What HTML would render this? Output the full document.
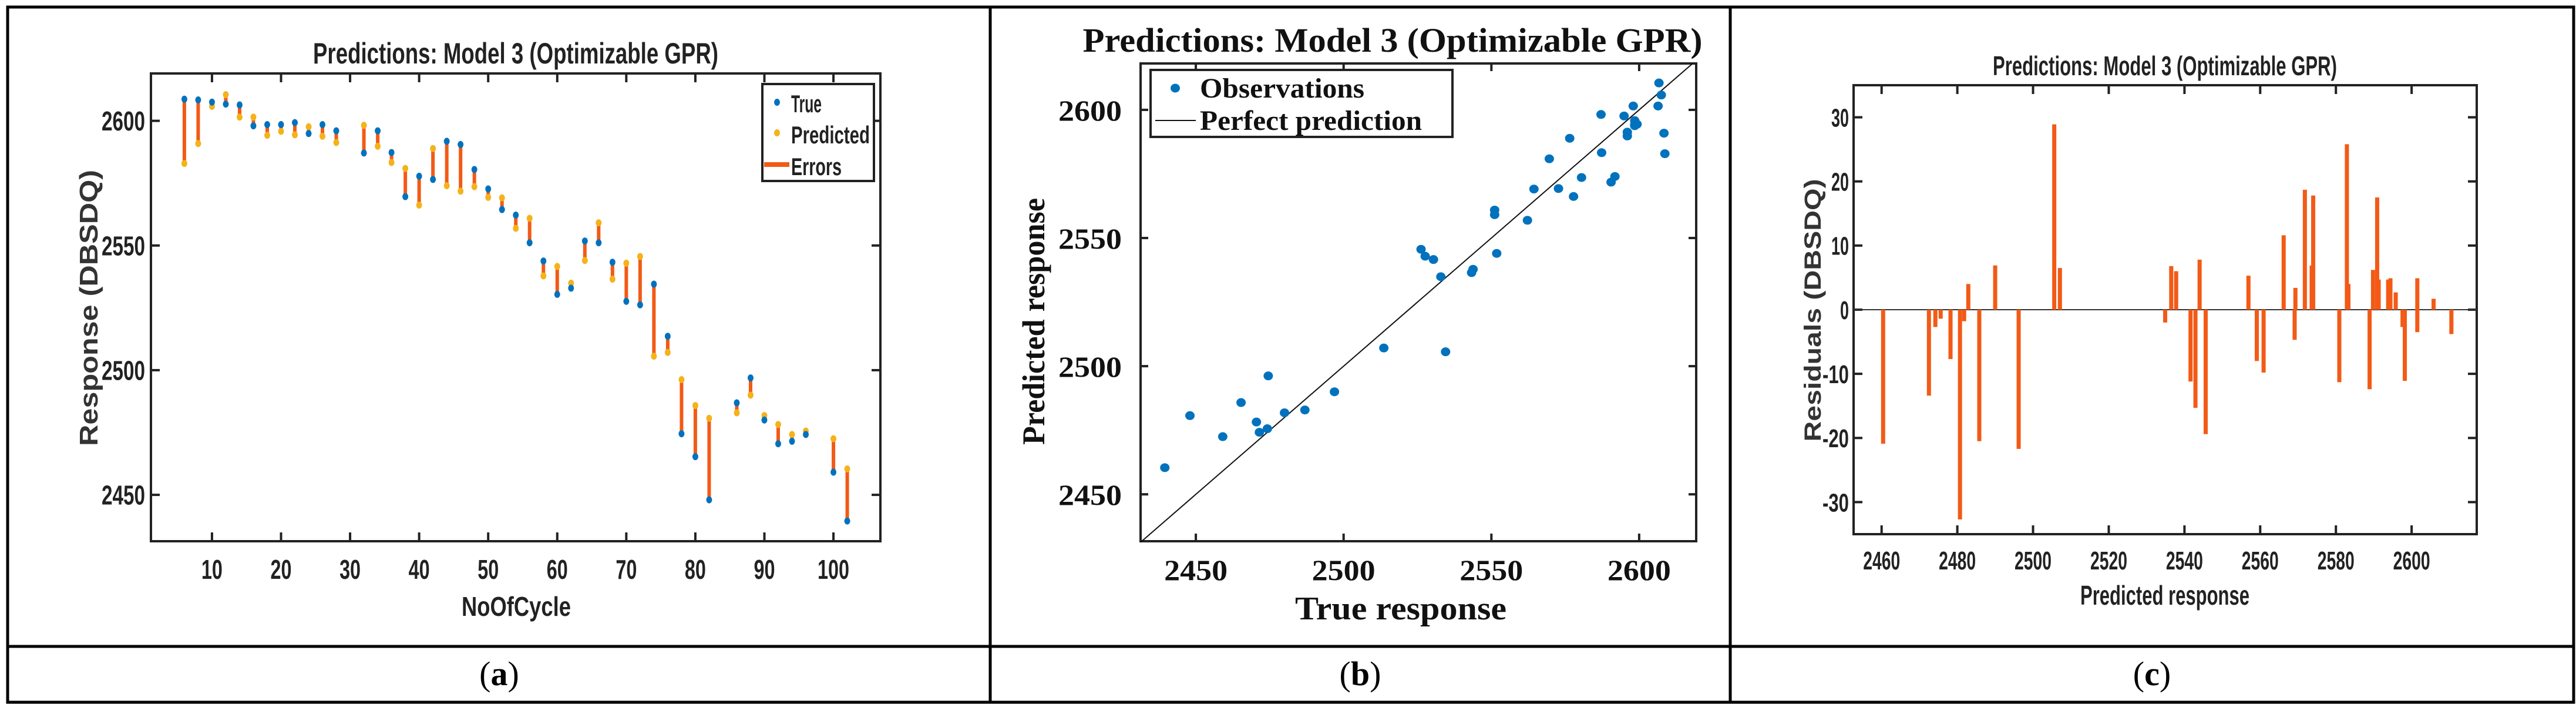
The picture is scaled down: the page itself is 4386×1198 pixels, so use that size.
<!DOCTYPE html>
<html><head><meta charset="utf-8"><style>
html,body{margin:0;padding:0;background:#fff;}
svg{display:block;}
.narrow{font-family:"Liberation Sans Narrow","Liberation Sans",sans-serif;font-weight:bold;fill:#222;}
.sans{font-family:"Liberation Sans",sans-serif;font-weight:bold;fill:#333;}
.serif{font-family:"Liberation Serif",serif;font-weight:bold;fill:#111;}
</style></head><body>
<svg id="fig" width="4386" height="1198" viewBox="0 0 4386 1198" xmlns="http://www.w3.org/2000/svg">
<g stroke="#000" stroke-width="5" fill="none">
<rect x="13" y="12" width="4369" height="1183"/>
<line x1="13" y1="1100" x2="4382" y2="1100"/>
<line x1="1686" y1="12" x2="1686" y2="1195"/>
<line x1="2946" y1="12" x2="2946" y2="1195"/>
</g>
<text x="850" y="1166" text-anchor="middle" font-family="Liberation Serif,serif" font-size="58">(<tspan font-weight="bold">a</tspan>)</text>
<text x="2316" y="1166" text-anchor="middle" font-family="Liberation Serif,serif" font-size="58">(<tspan font-weight="bold">b</tspan>)</text>
<text x="3664" y="1166" text-anchor="middle" font-family="Liberation Serif,serif" font-size="58">(<tspan font-weight="bold">c</tspan>)</text>

<g id="pa"></g>
<g id="pb"></g>
<g id="pc"></g>
</svg>
<script>
const cycles = [6,8,10,12,14,16,18,20,22,24,26,28,32,34,36,38,40,42,44,46,48,50,52,54,56,58,60,62,64,66,68,70,72,74,76,78,80,82,86,88,90,92,94,96,100,102];
const trueVals = [2608.7,2608.4,2607.5,2606.7,2606.4,2598,2598.5,2598.5,2599.3,2594.9,2598.5,2596,2587.1,2596,2587.3,2569.6,2577.8,2576.5,2591.8,2590.5,2580.5,2572.7,2564.4,2562.2,2551.1,2543.8,2530.4,2532.9,2551.8,2551.1,2543.3,2527.6,2526.2,2534.5,2513.6,2474.5,2465.3,2448,2486.9,2496.9,2480,2470.5,2471.5,2474.2,2459.1,2439.5];
const predVals = [2582.9,2590.9,2605.8,2610.5,2601.5,2601.5,2594.2,2595.8,2594.4,2597.6,2593.8,2591.3,2598.2,2589.8,2583.3,2580.9,2566.2,2588.9,2574,2571.8,2573.6,2569.3,2569.1,2556.9,2560.9,2537.8,2541.6,2534.9,2544,2559.1,2536.5,2542.9,2545.6,2505.6,2507.1,2496.2,2485.8,2480.7,2482.9,2490,2481.8,2478.2,2474.2,2475.6,2472.5,2460.4];
const ticksA_x = [10,20,30,40,50,60,70,80,90,100];
const ticksA_y = [2450,2500,2550,2600];
const ticksB = [2450,2500,2550,2600];
const ticksC_x = [2460,2480,2500,2520,2540,2560,2580,2600];
const ticksC_y = [-30,-20,-10,0,10,20,30];

const NS="http://www.w3.org/2000/svg";
function mk(parent,tag,attrs,text){const e=document.createElementNS(NS,tag);for(const k in attrs)e.setAttribute(k,attrs[k]);if(text!==undefined)e.textContent=text;parent.appendChild(e);return e;}
function lin(d0,d1,r0,r1){return v=>r0+(v-d0)/(d1-d0)*(r1-r0);}

function axesFrame(g,L,T,R,B,xs,ys,xt,yt,cls,fs,xlabW,ylabW,xLabY,yLabX,tl){
  const box=mk(g,'rect',{x:L,y:T,width:R-L,height:B-T,fill:'none',stroke:'#222','stroke-width':4});
  
  
  xt.forEach(v=>{const x=xs(v);
    const t1=mk(g,'line',{x1:x,y1:B,x2:x,y2:B-tl,stroke:'#222','stroke-width':4});
    
    
    const t2=mk(g,'line',{x1:x,y1:T,x2:x,y2:T+tl,stroke:'#222','stroke-width':4});
    
    
    const lb=mk(g,'text',{x:x,y:xLabY,'text-anchor':'middle','class':cls,'font-size':fs,textLength:xlabW(v),lengthAdjust:'spacingAndGlyphs'},String(v));
    
    
  });
  yt.forEach(v=>{const y=ys(v);
    const t1=mk(g,'line',{x1:L,y1:y,x2:L+tl,y2:y,stroke:'#222','stroke-width':4});
    
    
    const t2=mk(g,'line',{x1:R,y1:y,x2:R-tl,y2:y,stroke:'#222','stroke-width':4});
    
    
    const lb=mk(g,'text',{x:yLabX,y:y+fs*0.36,'text-anchor':'end','class':cls,'font-size':fs,textLength:ylabW(v),lengthAdjust:'spacingAndGlyphs'},String(v));
    
    
  });
}

// ---------- Panel A ----------
(function(){
  const g=document.getElementById('pa');
  const L=257,T=125,R=1499,B=921;
  const xs=lin(1.16,106.8,L,R), ys=lin(2431.4,2619,B,T);
  const t=mk(g,'text',{x:878,y:108,'text-anchor':'middle','class':'narrow','font-size':50,textLength:690,lengthAdjust:'spacingAndGlyphs'},'Predictions: Model 3 (Optimizable GPR)');
  
  
  axesFrame(g,L,T,R,B,xs,ys,ticksA_x,ticksA_y,'narrow',46,v=>String(v).length*18,v=>74,985,247,15);
  cycles.forEach((c,i)=>{const x=xs(c);
    const l=mk(g,'line',{x1:x,y1:ys(trueVals[i]),x2:x,y2:ys(predVals[i]),stroke:'#f25a16','stroke-width':6});
    
    
  });
  cycles.forEach((c,i)=>{const x=xs(c);
    const p=mk(g,'ellipse',{cx:x,cy:ys(predVals[i]),rx:5,ry:6,fill:'#f5b21a'});
    
    
    const q=mk(g,'ellipse',{cx:x,cy:ys(trueVals[i]),rx:5,ry:6,fill:'#0072bd'});
    
    
  });
  const lg=mk(g,'g',{});
  
  
  mk(lg,'rect',{x:1298,y:143,width:190,height:165,fill:'#fff',stroke:'#222','stroke-width':4});
  mk(lg,'ellipse',{cx:1323,cy:174,rx:5,ry:6,fill:'#0072bd'});
  mk(lg,'ellipse',{cx:1323,cy:226,rx:5,ry:6,fill:'#f5b21a'});
  mk(lg,'line',{x1:1301,y1:280,x2:1344,y2:280,stroke:'#f25a16','stroke-width':8});
  mk(lg,'text',{x:1347,y:191,'class':'narrow','font-size':42,textLength:52,lengthAdjust:'spacingAndGlyphs'},'True');
  mk(lg,'text',{x:1347,y:244,'class':'narrow','font-size':42,textLength:134,lengthAdjust:'spacingAndGlyphs'},'Predicted');
  mk(lg,'text',{x:1347,y:298,'class':'narrow','font-size':42,textLength:86,lengthAdjust:'spacingAndGlyphs'},'Errors');
  const xl=mk(g,'text',{x:879,y:1048,'text-anchor':'middle','class':'narrow','font-size':46,textLength:186,lengthAdjust:'spacingAndGlyphs'},'NoOfCycle');
  
  
  const yl=mk(g,'text',{x:0,y:0,'text-anchor':'middle','class':'sans','font-size':44,textLength:470,lengthAdjust:'spacingAndGlyphs',transform:'translate(166,524) rotate(-90)'},'Response (DBSDQ)');
  
  
})();

// ---------- Panel B ----------
(function(){
  const g=document.getElementById('pb');
  const L=1942,T=108,R=2888,B=921;
  const xs=lin(2431.3,2619.3,L,R), ys=lin(2431.7,2618.1,B,T);
  const t=mk(g,'text',{x:2371,y:88,'text-anchor':'middle','class':'serif','font-size':58,textLength:1055,lengthAdjust:'spacingAndGlyphs'},'Predictions: Model 3 (Optimizable GPR)');
  
  
  axesFrame(g,L,T,R,B,xs,ys,ticksB,ticksB,'serif',50,v=>108,v=>108,987,1910,13);
  const dl=mk(g,'line',{x1:xs(2431.3),y1:ys(2431.3),x2:xs(2618.1),y2:ys(2618.1),stroke:'#111','stroke-width':2});
  
  
  trueVals.forEach((tv,i)=>{
    const p=mk(g,'ellipse',{cx:xs(tv),cy:ys(predVals[i]),rx:8,ry:7.5,fill:'#0072bd'});
    
    
  });
  const lg=mk(g,'g',{});
  
  
  mk(lg,'rect',{x:1959,y:119,width:514,height:114,fill:'#fff',stroke:'#222','stroke-width':4});
  mk(lg,'ellipse',{cx:2001,cy:150,rx:8,ry:7.5,fill:'#0072bd'});
  mk(lg,'line',{x1:1967,y1:205,x2:2036,y2:205,stroke:'#111','stroke-width':2});
  mk(lg,'text',{x:2043,y:166,'class':'serif','font-size':48,textLength:280,lengthAdjust:'spacingAndGlyphs'},'Observations');
  mk(lg,'text',{x:2043,y:221,'class':'serif','font-size':48,textLength:378,lengthAdjust:'spacingAndGlyphs'},'Perfect prediction');
  const xl=mk(g,'text',{x:2385,y:1054,'text-anchor':'middle','class':'serif','font-size':56,textLength:360,lengthAdjust:'spacingAndGlyphs'},'True response');
  
  
  const yl=mk(g,'text',{x:0,y:0,'text-anchor':'middle','class':'serif','font-size':54,textLength:420,lengthAdjust:'spacingAndGlyphs',transform:'translate(1778,547) rotate(-90)'},'Predicted response');
  
  
})();

// ---------- Panel C ----------
(function(){
  const g=document.getElementById('pc');
  const L=3156,T=145,R=4217,B=909;
  const xs=lin(2452.6,2617.2,L,R), ys=lin(-35,35,B,T);
  const t=mk(g,'text',{x:3686,y:128,'text-anchor':'middle','class':'narrow','font-size':46,textLength:586,lengthAdjust:'spacingAndGlyphs'},'Predictions: Model 3 (Optimizable GPR)');
  
  
  axesFrame(g,L,T,R,B,xs,ys,ticksC_x,ticksC_y,'narrow',44,v=>63,v=>String(v).length*15,969,3148,15);
  const z=mk(g,'line',{x1:L,y1:ys(0),x2:R,y2:ys(0),stroke:'#333','stroke-width':2});
  
  
  predVals.forEach((pv,i)=>{
    const r=trueVals[i]-pv; const y0=ys(0), y1=ys(r);
    const b=mk(g,'rect',{x:xs(pv)-3.5,y:Math.min(y0,y1),width:7,height:Math.abs(y1-y0),fill:'#f25a16'});
    
    
  });
  const xl=mk(g,'text',{x:3686,y:1029,'text-anchor':'middle','class':'narrow','font-size':46,textLength:288,lengthAdjust:'spacingAndGlyphs'},'Predicted response');
  
  
  const yl=mk(g,'text',{x:0,y:0,'text-anchor':'middle','class':'sans','font-size':40,textLength:447,lengthAdjust:'spacingAndGlyphs',transform:'translate(3100,528) rotate(-90)'},'Residuals (DBSDQ)');
  
  
})();
</script>
</body></html>
